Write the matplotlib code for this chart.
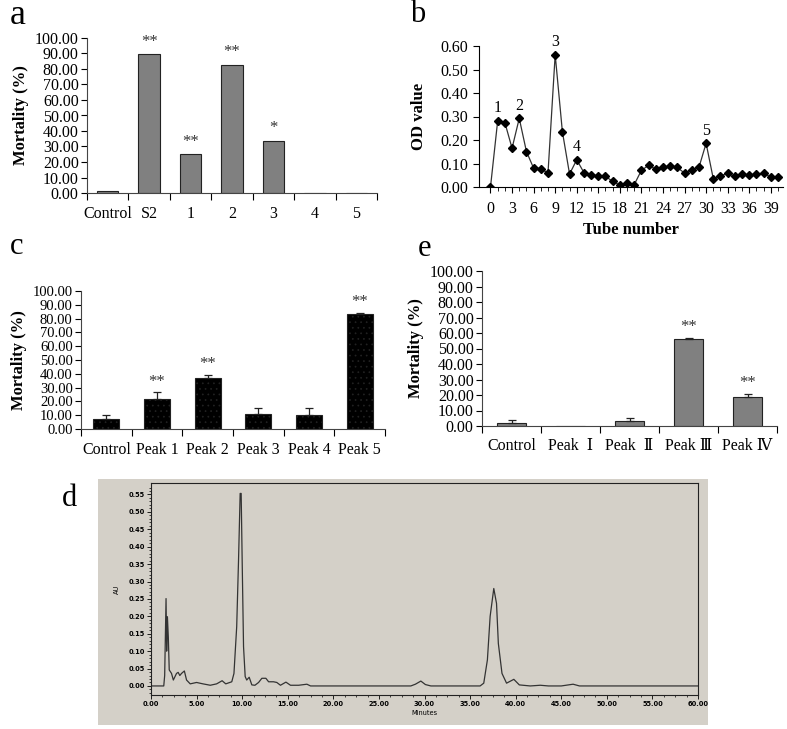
import numpy as np
import matplotlib.pyplot as plt

plt.rcParams['font.family'] = ['Liberation Serif', 'DejaVu Serif']
plt.rcParams['hatch.color'] = 'white'
plt.rcParams['hatch.linewidth'] = 0.5

# panel a
a_cats = ['Control', 'S2', '1', '2', '3', '4', '5']
a_vals = [1.0, 89.5, 25.0, 82.5, 33.5, 0, 0]
a_sig = ['', '**', '**', '**', '*', '', '']

# panel b
b_tube = list(range(41))
b_od = [0.0, 0.282, 0.274, 0.165, 0.292, 0.151, 0.080, 0.078, 0.059, 0.563,
        0.236, 0.055, 0.116, 0.061, 0.051, 0.048, 0.045, 0.024, 0.008, 0.016,
        0.010, 0.071, 0.092, 0.076, 0.083, 0.088, 0.083, 0.059, 0.073, 0.083,
        0.186, 0.035, 0.047, 0.059, 0.045, 0.055, 0.049, 0.055, 0.059, 0.042,
        0.042]
b_peak_tubes = [1, 4, 9, 12, 30]
b_peak_names = ['1', '2', '3', '4', '5']

# panel c
c_cats = ['Control', 'Peak 1', 'Peak 2', 'Peak 3', 'Peak 4', 'Peak 5']
c_vals = [7.0, 22.0, 37.0, 11.0, 10.5, 83.5]
c_err = [3.0, 4.5, 2.0, 4.5, 4.5, 0.5]
c_sig = ['', '**', '**', '', '', '**']

# panel e
e_cats = ['Control', 'Peak  \u2160', 'Peak  \u2161', 'Peak \u2162', 'Peak \u2163']
e_vals = [2.0, 0, 3.0, 56.0, 19.0]
e_err = [2.0, 0, 2.2, 1.0, 1.5]
e_sig = ['', '', '', '**', '**']

# panel d (chromatogram)
d_time = [0.0, 1.40, 1.50, 1.65, 1.72, 1.80, 1.90, 2.00, 2.25, 2.45, 2.80,
          2.98, 3.16, 3.35, 3.66, 3.90, 4.30, 5.00, 5.70, 6.50, 7.20, 7.80,
          8.20, 8.86, 9.10, 9.40, 9.60, 9.78, 9.89, 10.00, 10.15, 10.33, 10.50,
          10.77, 11.06, 11.40, 11.80, 12.16, 12.60, 12.90, 13.44, 13.80, 14.20,
          14.80, 15.30, 16.20, 17.10, 17.50, 28.50, 29.00, 29.60, 30.10, 30.70,
          36.10, 36.50, 36.90, 37.20, 37.60, 37.90, 38.10, 38.50, 39.00, 39.80,
          40.40, 41.60, 42.70, 43.60, 45.00, 46.30, 47.00, 60.0]
d_au = [0.0, 0.0, 0.03, 0.251, 0.10, 0.199, 0.14, 0.046, 0.036, 0.017, 0.036,
        0.039, 0.030, 0.036, 0.043, 0.017, 0.006, 0.010, 0.006, 0.002, 0.006,
        0.015, 0.006, 0.012, 0.036, 0.17, 0.36, 0.553, 0.553, 0.36, 0.113,
        0.027, 0.017, 0.025, 0.003, 0.002, 0.010, 0.022, 0.022, 0.012, 0.012,
        0.010, 0.002, 0.011, 0.002, 0.002, 0.005, 0.0, 0.0, 0.005, 0.014,
        0.004, 0.0, 0.0, 0.008, 0.075, 0.20, 0.28, 0.237, 0.122, 0.036, 0.008,
        0.019, 0.003, 0.0, 0.002, 0.0, 0.0, 0.005, 0.0, 0.0]

W, H = 787, 729
fig = plt.figure(figsize=(W / 100, H / 100), dpi=100)


def px_axes(left, top, right, bottom, **kw):
    return fig.add_axes([left / W, 1 - bottom / H, (right - left) / W, (bottom - top) / H], **kw)


def excel_bar(ax, cats, vals, color, err=None, sig=None, hatch=None, width=0.52, star_off=4, ysize=11.5):
    n = len(cats)
    x = np.arange(n)
    ax.bar(x, vals, width=width, color=color, edgecolor='#222222', linewidth=0.8, hatch=hatch, zorder=2)
    if err is not None:
        for xi, v, e in zip(x, vals, err):
            if e > 0:
                ax.errorbar(xi, v, yerr=[[0], [e]], fmt='none', ecolor='#222222',
                            elinewidth=0.9, capsize=3, capthick=0.9, zorder=3)
    if sig is not None:
        for xi, v, s, e in zip(x, vals, sig, err if err is not None else [0] * n):
            if s:
                ax.text(xi, v + e + star_off, s, ha='center', va='bottom', fontsize=12, color='#333333')
    ax.set_xlim(-0.5, n - 0.5)
    ax.set_ylim(0, 100)
    ax.set_yticks(np.arange(0, 101, 10), [f'{v:.2f}' for v in range(0, 101, 10)])
    ax.set_xticks(x, cats)
    ax.set_xticks(np.arange(n + 1) - 0.5, minor=True)
    ax.tick_params(axis='x', which='major', length=0, pad=9, labelsize=11.5)
    ax.tick_params(axis='x', which='minor', length=5, direction='out', width=0.8)
    ax.tick_params(axis='y', length=4, width=0.8, labelsize=ysize, pad=2)
    for s in ['top', 'right']:
        ax.spines[s].set_visible(False)
    for s in ['left', 'bottom']:
        ax.spines[s].set_color('#444444')
        ax.spines[s].set_linewidth(0.8)
    ax.set_ylabel('Mortality (%)', fontsize=12, fontweight='bold', labelpad=4)


# a
ax_a = px_axes(87, 38, 377, 193)
excel_bar(ax_a, a_cats, a_vals, '#808080', sig=a_sig, star_off=3)
fig.text(10 / W, 1 - 16 / H, 'a', fontsize=26, va='center')

# b
ax_b = px_axes(479, 46, 783, 187)
ax_b.plot(b_tube, b_od, color='#333333', lw=0.9, marker='D', ms=4, mfc='black', mec='black')
for t, nm in zip(b_peak_tubes, b_peak_names):
    ax_b.text(t, b_od[t] + 0.02, nm, ha='center', va='bottom', fontsize=11.5)
ax_b.set_xlim(-1.6, 40.7)
ax_b.set_ylim(0, 0.6)
ax_b.set_xticks(np.arange(0, 40, 3))
ax_b.set_xticks(np.arange(0, 41), minor=True)
ax_b.set_yticks(np.arange(0, 0.61, 0.1), [f'{v:.2f}' for v in np.arange(0, 0.61, 0.1)])
ax_b.tick_params(axis='both', which='major', length=4, width=0.8, labelsize=11.5)
ax_b.tick_params(axis='x', which='minor', length=3, width=0.6)
ax_b.tick_params(axis='x', pad=6)
for s in ['top', 'right']:
    ax_b.spines[s].set_visible(False)
ax_b.set_ylabel('OD value', fontsize=12, fontweight='bold', labelpad=10)
ax_b.set_xlabel('Tube number', fontsize=12, fontweight='bold', labelpad=4)
fig.text(410 / W, 1 - 14 / H, 'b', fontsize=22, va='center')

# c
ax_c = px_axes(81, 291, 385, 429)
excel_bar(ax_c, c_cats, c_vals, 'black', err=c_err, sig=c_sig, hatch='...', width=0.51,
          star_off=2, ysize=10.5)
fig.text(10 / W, 1 - 247 / H, 'c', fontsize=22, va='center')

# e
ax_e = px_axes(482, 271, 777, 426)
excel_bar(ax_e, e_cats, e_vals, '#808080', err=e_err, sig=e_sig, width=0.5, star_off=2)
fig.text(418 / W, 1 - 249 / H, 'e', fontsize=22, va='center')

# d
bg = px_axes(98, 479, 708, 725, facecolor='#d4d0c8')
bg.set_xticks([])
bg.set_yticks([])
for s in bg.spines.values():
    s.set_visible(False)
ax_d = px_axes(151, 483, 698, 695, facecolor='#d4d0c8')
ax_d.plot(d_time, d_au, color='#333333', lw=0.9)
ax_d.set_xlim(0, 60)
ax_d.set_ylim(-0.026, 0.583)
ax_d.set_xticks(np.arange(0, 61, 5), [f'{v:.2f}' for v in range(0, 61, 5)])
ax_d.set_xticks(np.arange(0, 61, 1.25), minor=True)
ax_d.set_yticks(np.arange(0, 0.56, 0.05), [f'{v:.2f}' for v in np.arange(0, 0.56, 0.05)])
ax_d.set_yticks(np.arange(-0.02, 0.58, 0.01), minor=True)
ax_d.tick_params(axis='both', which='major', length=3, width=0.6, labelsize=4.8, pad=1.5)
ax_d.tick_params(axis='both', which='minor', length=1.5, width=0.5)
for lab in ax_d.get_xticklabels() + ax_d.get_yticklabels():
    lab.set_family('DejaVu Sans')
    lab.set_fontweight('bold')
for s in ax_d.spines.values():
    s.set_linewidth(0.8)
    s.set_color('#222222')
ax_d.set_xlabel('Minutes', fontsize=4.8, family='DejaVu Sans', labelpad=2)
ax_d.set_ylabel('AU', fontsize=4.8, family='DejaVu Sans', labelpad=6)
fig.text(62 / W, 1 - 498 / H, 'd', fontsize=22, va='center')

fig.savefig('out.png', dpi=100)
